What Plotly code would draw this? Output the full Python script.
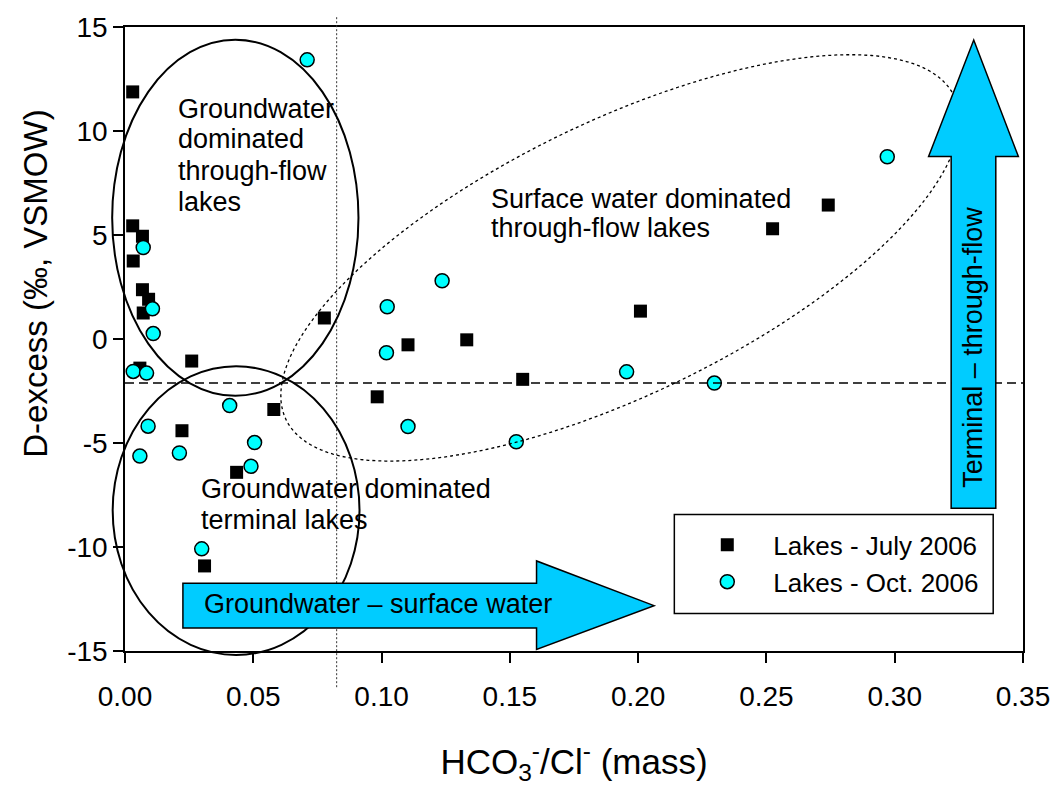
import numpy as np
import plotly.graph_objects as go

# HCO3-/Cl- mass ratio vs. deuterium excess for the lake samples
july_ratio = [0.0030, 0.0030, 0.0068, 0.0032, 0.0068, 0.0092, 0.0071, 0.0058, 0.0260,
              0.0777, 0.0222, 0.0580, 0.0435, 0.0310, 0.0983, 0.1103, 0.1332, 0.1550,
              0.2009, 0.2524, 0.2741]
july_dex = [11.88, 5.44, 4.94, 3.75, 2.37, 1.91, 1.25, -1.40, -1.06,
            1.01, -4.41, -3.39, -6.41, -10.91, -2.78, -0.28, -0.04, -1.94,
            1.34, 5.30, 6.44]

oct_ratio = [0.0710, 0.0071, 0.0107, 0.0110, 0.0032, 0.0084, 0.0408, 0.0090, 0.0505,
             0.0058, 0.0212, 0.0491, 0.0299, 0.1236, 0.1022, 0.1019, 0.1955, 0.2297,
             0.1103, 0.1525, 0.2971]
oct_dex = [13.42, 4.40, 1.45, 0.26, -1.56, -1.64, -3.20, -4.19, -4.98,
           -5.63, -5.48, -6.12, -10.09, 2.80, 1.55, -0.66, -1.58, -2.12,
           -4.21, -4.94, 8.76]

x_ticks = [0.00, 0.05, 0.10, 0.15, 0.20, 0.25, 0.30, 0.35]
x_tick_text = ["0.00", "0.05", "0.10", "0.15", "0.20", "0.25", "0.30", "0.35"]
y_ticks = [-15, -10, -5, 0, 5, 10, 15]
y_tick_text = ["-15", "-10", "-5", "0", "5", "10", "15"]

# reference levels
dex_threshold = -2.12
ratio_threshold = 0.0825

X_MIN, X_MAX = 0.0, 0.35
Y_MIN, Y_MAX = -15.0, 15.0

FONT = "Liberation Sans, Arial, sans-serif"
ARROW_FILL = "#00CCFF"


def to_px(x):
    return (x - X_MIN) / (X_MAX - X_MIN)


def to_py(y):
    return (y - Y_MIN) / (Y_MAX - Y_MIN)


fig = go.Figure()

fig.add_trace(go.Scatter(
    x=july_ratio, y=july_dex, mode="markers", name="Lakes - July 2006",
    marker=dict(symbol="square", size=13, color="black", line=dict(width=0)),
    cliponaxis=False,
))
fig.add_trace(go.Scatter(
    x=oct_ratio, y=oct_dex, mode="markers", name="Lakes - Oct. 2006",
    marker=dict(symbol="circle", size=14, color="#00FFFF",
                line=dict(width=1.5, color="black")),
    cliponaxis=False,
))

shapes = []

# horizontal dashed threshold
shapes.append(dict(type="line", xref="x", yref="y", x0=X_MIN, x1=X_MAX,
                   y0=dex_threshold, y1=dex_threshold,
                   line=dict(color="black", width=1.5, dash="9px,5px")))
# vertical dotted threshold, running slightly past the frame
shapes.append(dict(type="line", xref="x", yref="paper", x0=ratio_threshold, x1=ratio_threshold,
                   y0=-0.058, y1=1.016,
                   line=dict(color="#333333", width=1, dash="2px,2px")))

# groundwater-dominated groups (solid ellipses)
for (xa, xb, ya, yb) in [(-0.005, 0.091, -2.73, 14.39), (-0.0048, 0.0914, -15.19, -1.31)]:
    shapes.append(dict(type="circle", xref="paper", yref="paper",
                       x0=to_px(xa), x1=to_px(xb), y0=to_py(ya), y1=to_py(yb),
                       line=dict(color="black", width=2)))

# surface-water-dominated group (tilted dotted ellipse)
cx, cy = 0.19297, 3.899
ux, uy = 0.13016, 7.789
vx, vy = 0.02338, -5.896
t = np.linspace(0, 2 * np.pi, 181)
ex = cx + ux * np.cos(t) + vx * np.sin(t)
ey = cy + uy * np.cos(t) + vy * np.sin(t)
path = "M " + " L ".join(f"{a:.5f},{b:.4f}" for a, b in zip(ex, ey)) + " Z"
shapes.append(dict(type="path", xref="x", yref="y", path=path,
                   line=dict(color="black", width=1.3, dash="dot")))

# legend frame
shapes.append(dict(type="rect", xref="paper", yref="paper",
                   x0=(678 - 125) / 904, x1=(999 - 125) / 904,
                   y0=(651 - 613) / 631, y1=(651 - 513) / 631,
                   fillcolor="white", line=dict(color="black", width=1.5)))

# horizontal block arrow: groundwater -> surface water
h_arrow = [(0.02257, -11.74), (0.1604, -11.74), (0.1604, -10.67), (0.2062, -12.82),
           (0.1604, -14.92), (0.1604, -13.89), (0.02257, -13.89)]
shapes.append(dict(type="path", xref="x", yref="y",
                   path="M " + " L ".join(f"{a},{b}" for a, b in h_arrow) + " Z",
                   fillcolor=ARROW_FILL, line=dict(color="black", width=1.5)))
# vertical block arrow: terminal -> through-flow
v_arrow = [(0.3220, -8.14), (0.3220, 8.77), (0.3132, 8.77), (0.3308, 14.37),
           (0.3482, 8.77), (0.3394, 8.77), (0.3394, -8.14)]
shapes.append(dict(type="path", xref="x", yref="y",
                   path="M " + " L ".join(f"{a},{b}" for a, b in v_arrow) + " Z",
                   fillcolor=ARROW_FILL, line=dict(color="black", width=1.5)))

annotations = []
label_font = dict(family=FONT, size=27, color="black")


def add_line(text, x, y, angle=0, anchor="left"):
    annotations.append(dict(text=text, x=x, y=y, xref="x", yref="y", showarrow=False,
                            xanchor=anchor, yanchor="middle", textangle=angle,
                            font=label_font))


for txt, yy in zip(["Groundwater", "dominated", "through-flow", "lakes"],
                   [11.06, 9.60, 8.09, 6.59]):
    add_line(txt, 0.0197, yy)
for txt, yy in zip(["Surface water dominated", "through-flow lakes"], [6.71, 5.32]):
    add_line(txt, 0.142, yy)
for txt, yy in zip(["Groundwater dominated", "terminal lakes"], [-7.20, -8.68]):
    add_line(txt, 0.0287, yy)
add_line("Groundwater \u2013 surface water", 0.0302, -12.72)
add_line("Terminal \u2013 through-flow", 0.3307, -0.40, angle=-90, anchor="center")

# y-axis title, sitting a little above the middle of the axis
annotations.append(dict(text="D-excess (\u2030, VSMOW)", xref="paper", yref="paper",
                        x=(35 - 125) / 904, y=(651 - 280) / 631, showarrow=False,
                        xanchor="center", yanchor="middle", textangle=-90,
                        font=dict(family=FONT, size=33, color="black")))

fig.update_layout(
    width=1062, height=791,
    margin=dict(l=125, r=33, t=20, b=140),
    paper_bgcolor="white", plot_bgcolor="white",
    font=dict(family=FONT, size=26, color="black"),
    shapes=shapes, annotations=annotations,
    showlegend=True,
    legend=dict(x=(685 - 125) / 904, y=(651 - 520) / 631, xanchor="left", yanchor="top",
                bgcolor="rgba(0,0,0,0)", borderwidth=0,
                font=dict(family=FONT, size=26, color="black"),
                itemwidth=82, tracegroupgap=0),
)

fig.update_xaxes(
    range=[X_MIN, X_MAX], tickvals=x_ticks, ticktext=x_tick_text,
    ticks="outside", ticklen=10, tickwidth=1.5, tickcolor="black",
    showline=True, linecolor="black", linewidth=1.5, mirror=True,
    showgrid=False, zeroline=False, ticklabelstandoff=10,
    tickfont=dict(family=FONT, size=28, color="black"),
    title=dict(text="HCO<sub>3</sub><sup>-</sup>/Cl<sup>-</sup> (mass)",
               font=dict(family=FONT, size=35, color="black"), standoff=38),
)
fig.update_yaxes(
    range=[Y_MIN, Y_MAX], tickvals=y_ticks, ticktext=y_tick_text,
    ticks="outside", ticklen=10, tickwidth=1.5, tickcolor="black",
    showline=True, linecolor="black", linewidth=1.5, mirror=True,
    showgrid=False, zeroline=False,
    tickfont=dict(family=FONT, size=28, color="black"),
)

fig.write_html("out.html")
